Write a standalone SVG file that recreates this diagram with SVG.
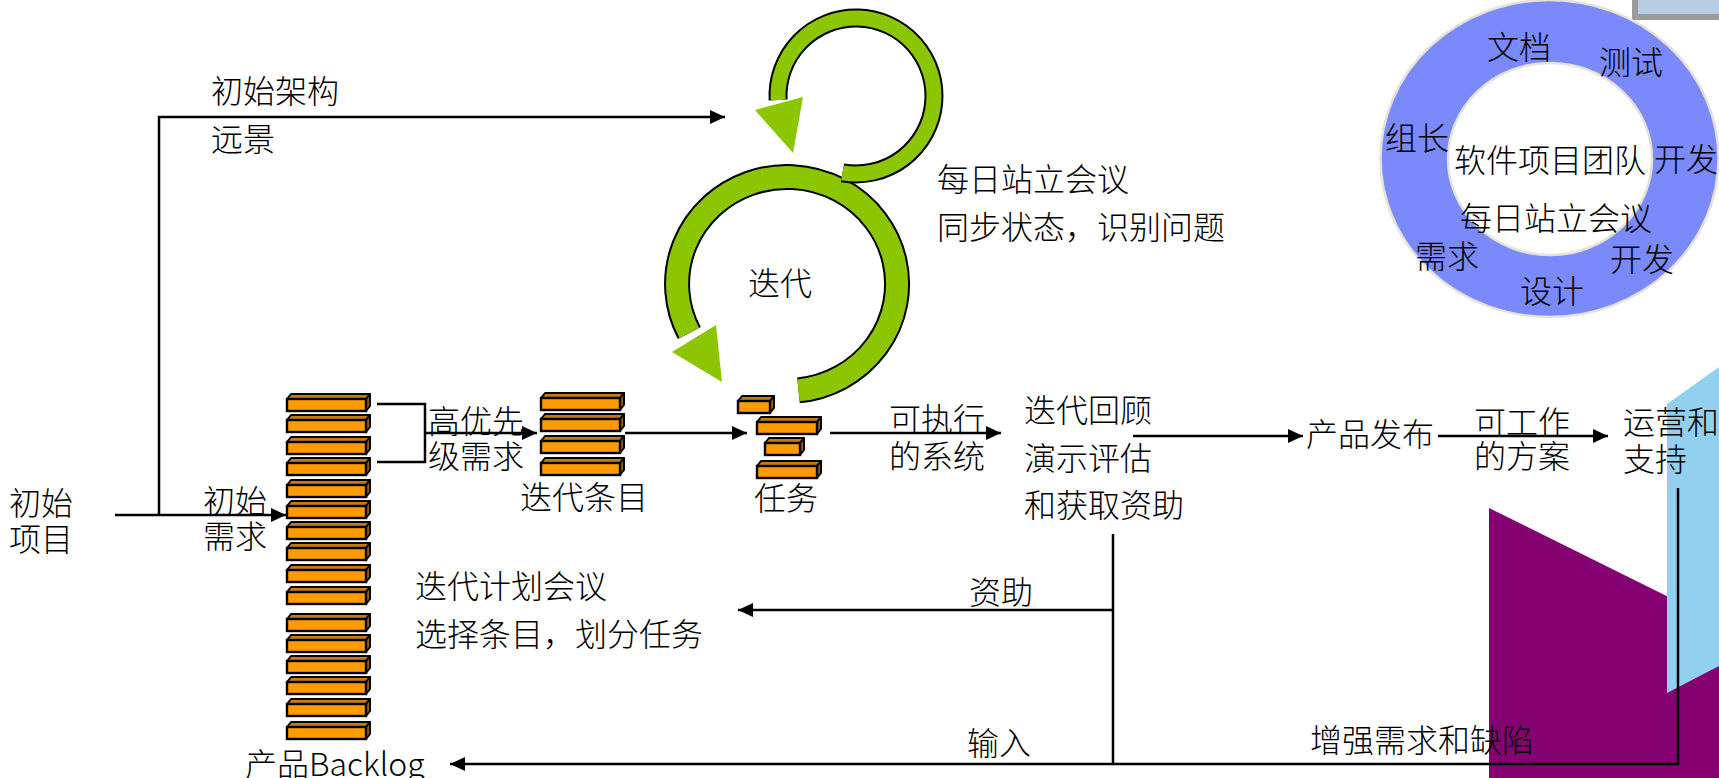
<svg xmlns="http://www.w3.org/2000/svg" width="1719" height="778" viewBox="0 0 1719 778">
  <defs>
    <style>
      .t { font-family: 'Noto Sans CJK SC', 'Noto Sans', sans-serif; font-size: 32px; fill: #000; font-weight: 300; }
      .m { text-anchor: middle; }
      .ln { fill: none; stroke: #000; stroke-width: 2.5; }
      .arw { marker-end: url(#head); }
      .blk-top { fill: #c27c12; stroke: #000; stroke-width: 2; stroke-linejoin: round; }
      .blk-side { fill: #9a5c08; stroke: #000; stroke-width: 2; stroke-linejoin: round; }
      .blk-front { fill: #ff9a00; stroke: #000; stroke-width: 2.4; }
      .loop-edge { fill: none; stroke: #000; }
      .loop-body { fill: none; stroke: #8cc600; }
      .loop-head { fill: #8cc600; }
    </style>
    <marker id="head" markerUnits="userSpaceOnUse" markerWidth="16" markerHeight="16" refX="15" refY="7" orient="auto">
      <path d="M0,0 L15,7 L0,14 Z" fill="#000"/>
    </marker>
    <!-- wide backlog / iteration item block: front face 79 wide -->
    <g id="blk79">
      <path class="blk-top" d="M0,5 L4,0 L83,0 L79,5 Z"/>
      <path class="blk-side" d="M79,5 L83,0 L83,12 L79,17 Z"/>
      <rect class="blk-front" x="0" y="5" width="79" height="12"/>
    </g>
    <g id="blk60">
      <path class="blk-top" d="M0,5 L4,0 L64,0 L60,5 Z"/>
      <path class="blk-side" d="M60,5 L64,0 L64,12 L60,17 Z"/>
      <rect class="blk-front" x="0" y="5" width="60" height="12"/>
    </g>
    <g id="blk35">
      <path class="blk-top" d="M0,5 L4,0 L39,0 L35,5 Z"/>
      <path class="blk-side" d="M35,5 L39,0 L39,12 L35,17 Z"/>
      <rect class="blk-front" x="0" y="5" width="35" height="12"/>
    </g>
    <g id="blk32">
      <path class="blk-top" d="M0,5 L4,0 L36,0 L32,5 Z"/>
      <path class="blk-side" d="M32,5 L36,0 L36,12 L32,17 Z"/>
      <rect class="blk-front" x="0" y="5" width="32" height="12"/>
    </g>
  </defs>

  <rect x="0" y="0" width="1719" height="778" fill="#fff"/>

  <!-- background decoration, lower right -->
  <g id="decor">
    <polygon points="1489,508 1719,622 1719,778 1489,778" fill="#850070"/>
    <polygon points="1667,404 1719,367 1719,666 1667,693" fill="#92d0f0"/>
    <rect x="1635" y="-10" width="100" height="27" fill="#b8cce4" stroke="#9a9a9a" stroke-width="6"/>
  </g>

  <!-- team ring -->
  <g id="team-ring">
    <path d="M1380.5,158.5 A169,158.5 0 1 0 1718.5,158.5 A169,158.5 0 1 0 1380.5,158.5 Z M1448,159 A102,96 0 1 1 1652,159 A102,96 0 1 1 1448,159 Z" fill="#7a8afa" fill-rule="evenodd" stroke="#e6e2d8" stroke-width="2.5"/>
    <text class="t m" x="1519" y="59">文档</text>
    <text class="t m" x="1631" y="74">测试</text>
    <text class="t m" x="1417" y="150">组长</text>
    <text class="t m" x="1550" y="172">软件项目团队</text>
    <text class="t m" x="1686" y="171">开发</text>
    <text class="t m" x="1556" y="230">每日站立会议</text>
    <text class="t m" x="1447" y="268">需求</text>
    <text class="t m" x="1642" y="271">开发</text>
    <text class="t m" x="1552" y="303">设计</text>
  </g>

  <!-- iteration loop (large) -->
  <g id="iteration-loop">
    <path class="loop-edge" stroke-width="26" d="M798.5,390.4 A110,107 0 1 0 689.3,333"/>
    <path class="loop-body" stroke-width="22" d="M798.5,390.4 A110,107 0 1 0 689.3,333"/>
    <polygon class="loop-head" points="672,352 716,325 722,382"/>
    <text class="t m" x="780" y="295">迭代</text>
  </g>

  <!-- daily loop (small) -->
  <g id="daily-loop">
    <path class="loop-edge" stroke-width="19" d="M842.5,172.8 A78,78 0 1 0 778.1,100.1"/>
    <path class="loop-body" stroke-width="15" d="M842.5,172.8 A78,78 0 1 0 778.1,100.1"/>
    <polygon class="loop-head" points="755,110 803,97 793,153"/>
  </g>
  <g id="daily-meeting">
    <text class="t" x="937" y="191">每日站立会议</text>
    <text class="t" x="937" y="239">同步状态，识别问题</text>
  </g>

  <!-- product backlog -->
  <g id="backlog">
    <use href="#blk79" x="287" y="394"/>
    <use href="#blk79" x="287" y="415"/>
    <use href="#blk79" x="287" y="437"/>
    <use href="#blk79" x="287" y="458"/>
    <use href="#blk79" x="287" y="480"/>
    <use href="#blk79" x="287" y="501"/>
    <use href="#blk79" x="287" y="522"/>
    <use href="#blk79" x="287" y="543"/>
    <use href="#blk79" x="287" y="565"/>
    <use href="#blk79" x="287" y="587"/>
    <use href="#blk79" x="287" y="614"/>
    <use href="#blk79" x="287" y="635"/>
    <use href="#blk79" x="287" y="656"/>
    <use href="#blk79" x="287" y="677"/>
    <use href="#blk79" x="287" y="699"/>
    <use href="#blk79" x="287" y="722"/>
    <text class="t" x="245" y="776">产品Backlog</text>
  </g>

  <!-- iteration items -->
  <g id="iteration-items">
    <use href="#blk79" x="541" y="393"/>
    <use href="#blk79" x="541" y="414"/>
    <use href="#blk79" x="541" y="436"/>
    <use href="#blk79" x="541" y="458"/>
    <text class="t m" x="584" y="509">迭代条目</text>
  </g>

  <!-- tasks -->
  <g id="tasks">
    <use href="#blk32" x="738" y="396"/>
    <use href="#blk60" x="757" y="417"/>
    <use href="#blk35" x="765" y="438"/>
    <use href="#blk60" x="757" y="461"/>
    <text class="t m" x="786" y="510">任务</text>
  </g>

  <g id="project-start">
    <text class="t" x="9" y="515">初始</text>
    <text class="t" x="9" y="551">项目</text>
  </g>

  <g id="review">
    <text class="t" x="1024" y="422">迭代回顾</text>
    <text class="t" x="1024" y="470">演示评估</text>
    <text class="t" x="1024" y="517">和获取资助</text>
  </g>

  <g id="release">
    <text class="t" x="1306" y="446">产品发布</text>
  </g>

  <g id="operations">
    <text class="t" x="1623" y="434">运营和</text>
    <text class="t" x="1623" y="471">支持</text>
  </g>

  <g id="planning-meeting">
    <text class="t" x="415" y="598">迭代计划会议</text>
    <text class="t" x="415" y="646">选择条目，划分任务</text>
  </g>

  <!-- connectors -->
  <g id="connectors">
    <polyline class="ln arw" points="159,515 159,117 725,117"/>
    <line class="ln arw" x1="115" y1="515" x2="286" y2="515" stroke-width="3"/>
    <polyline class="ln" points="377,404 425,404 425,462 377,462"/>
    <line class="ln arw" x1="425" y1="433" x2="537" y2="433"/>
    <line class="ln arw" x1="625" y1="433" x2="747" y2="433"/>
    <line class="ln arw" x1="830" y1="433" x2="1001" y2="433"/>
    <line class="ln arw" x1="1133" y1="436" x2="1303" y2="436" stroke-width="3"/>
    <line class="ln arw" x1="1438" y1="436" x2="1608" y2="436" stroke-width="3"/>
    <polyline class="ln arw" points="1678,488 1678,764 450,764" stroke-width="3"/>
    <line class="ln" x1="1113" y1="534" x2="1113" y2="764"/>
    <line class="ln arw" x1="1113" y1="610" x2="738" y2="610"/>
  </g>

  <!-- connector labels -->
  <g id="connector-labels">
    <text class="t" x="211" y="103">初始架构</text>
    <text class="t" x="211" y="151">远景</text>
    <text class="t" x="203" y="513">初始</text>
    <text class="t" x="203" y="548">需求</text>
    <text class="t" x="428" y="433">高优先</text>
    <text class="t" x="428" y="468">级需求</text>
    <text class="t m" x="937" y="431">可执行</text>
    <text class="t m" x="937" y="468">的系统</text>
    <text class="t m" x="1522" y="434">可工作</text>
    <text class="t m" x="1522" y="468">的方案</text>
    <text class="t m" x="1001" y="604">资助</text>
    <text class="t m" x="999" y="755">输入</text>
    <text class="t m" x="1422" y="752">增强需求和缺陷</text>
  </g>
</svg>
